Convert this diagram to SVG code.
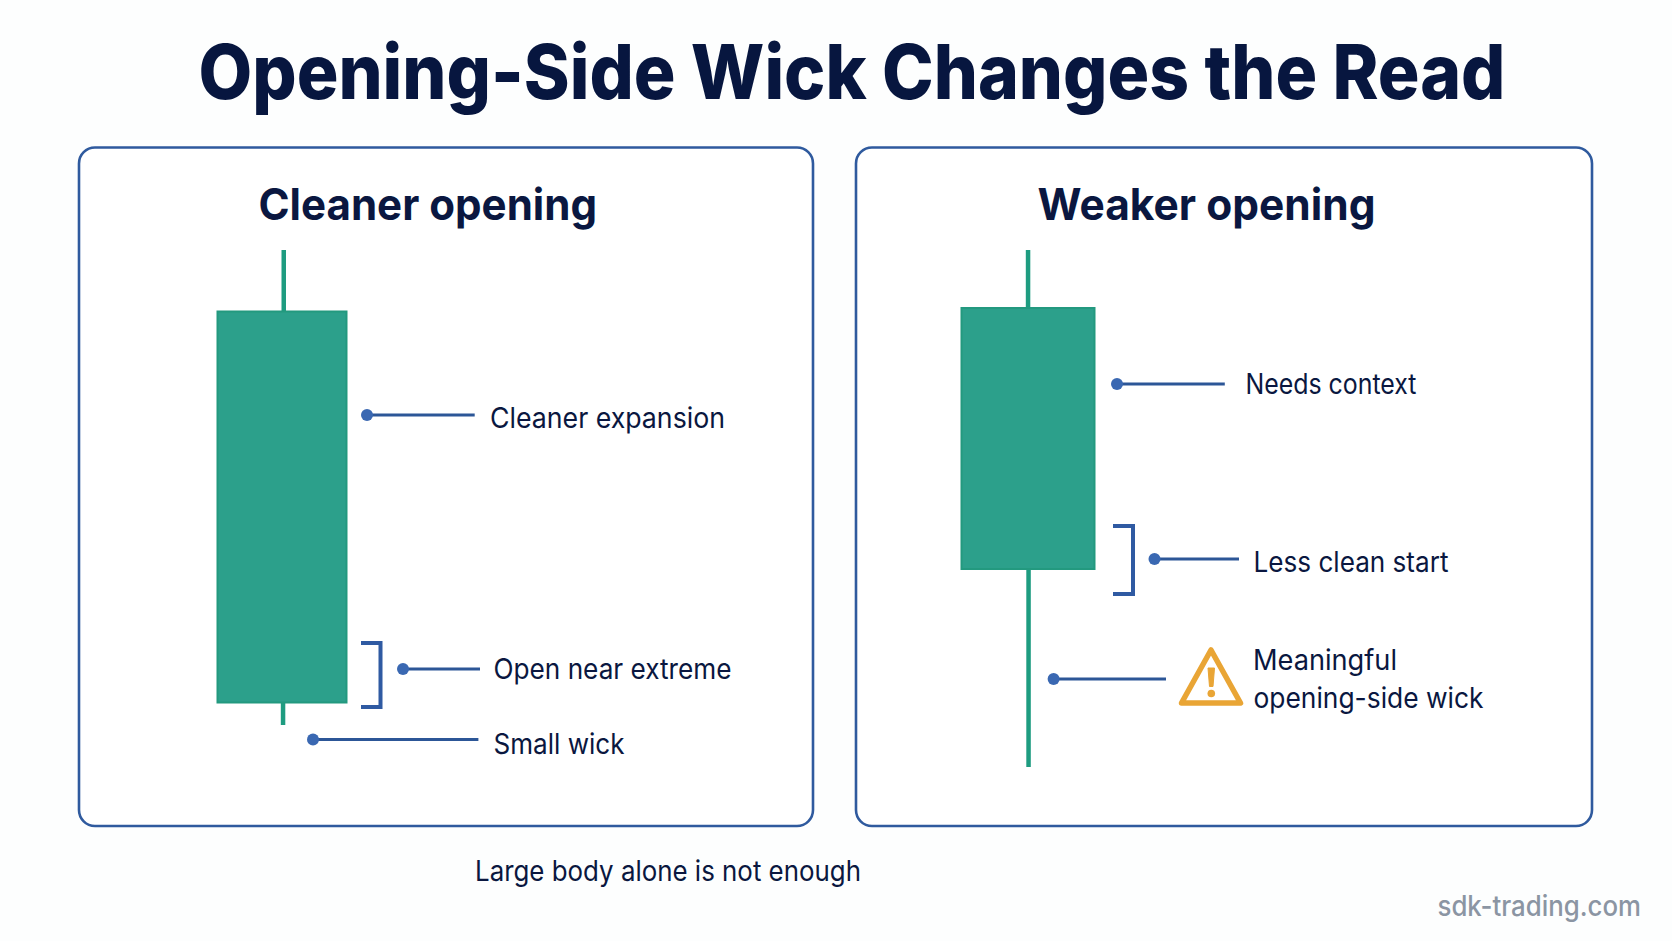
<svg xmlns="http://www.w3.org/2000/svg" width="1672" height="941" viewBox="0 0 1672 941">
<style>
text{font-family:"Inter","Liberation Sans",sans-serif;fill:#0a1740}
.title{font-size:76px;font-weight:800;fill:#07163f}
.sub{font-size:44px;font-weight:700}
.lab{font-size:28px;font-weight:400}
.wm{font-size:28px;font-weight:500;fill:#8b95a3}
.panel{fill:#fff;stroke:#2f5a9e;stroke-width:2.6}
.body{fill:#2ca08b;stroke:#23997f;stroke-width:2}
.wick{fill:#1e9c80}
.ln{stroke:#2c5697;stroke-width:3;fill:none}
.br{stroke:#2f5aa2;stroke-width:4;fill:none}
.dot{fill:#3a68b2}
</style>
<rect width="1672" height="941" fill="#fdfefe"/>
<text id="title" class="title" x="198.5" y="99" textLength="1307" lengthAdjust="spacingAndGlyphs">Opening-Side Wick Changes the Read</text>
<g id="panel-left"><rect class="panel" x="79" y="147.5" width="734" height="678.5" rx="16"/><text class="sub" x="258.5" y="220" textLength="338.5" lengthAdjust="spacingAndGlyphs">Cleaner opening</text></g>
<g id="panel-right"><rect class="panel" x="856" y="147.5" width="736" height="678.5" rx="16"/><text class="sub" x="1037.5" y="220" textLength="338" lengthAdjust="spacingAndGlyphs">Weaker opening</text></g>
<g id="candle-left"><rect class="wick" x="281.5" y="250" width="4.5" height="62"/><rect class="wick" x="280.8" y="702" width="4.5" height="23"/><rect class="body" x="217.5" y="311.5" width="129" height="391"/></g>
<g id="candle-right"><rect class="wick" x="1025.8" y="250" width="4.5" height="59"/><rect class="wick" x="1026.3" y="569" width="4.5" height="198"/><rect class="body" x="961.5" y="308" width="133" height="261"/></g>
<g id="connectors">
<path class="ln" d="M367 415H474.7"/><circle class="dot" cx="367" cy="415" r="6"/>
<path class="br" d="M361 643H380.5V707H361"/>
<path class="ln" d="M403 669H480"/><circle class="dot" cx="403" cy="669" r="6"/>
<path class="ln" d="M313 739.5H478.4"/><circle class="dot" cx="313" cy="739.5" r="6"/>
<path class="ln" d="M1117 384H1224.8"/><circle class="dot" cx="1117" cy="384" r="6"/>
<path class="br" d="M1113 526H1133V594H1113"/>
<path class="ln" d="M1154.5 559H1239"/><circle class="dot" cx="1154.5" cy="559" r="6"/>
<path class="ln" d="M1053.6 679H1166"/><circle class="dot" cx="1053.6" cy="679" r="6"/>
</g>
<g id="label-expansion"><text class="lab" x="490" y="428" textLength="235" lengthAdjust="spacingAndGlyphs">Cleaner expansion</text></g>
<g id="label-open"><text class="lab" x="493.5" y="679" textLength="238" lengthAdjust="spacingAndGlyphs">Open near extreme</text></g>
<g id="label-small"><text class="lab" x="493.5" y="754" textLength="131" lengthAdjust="spacingAndGlyphs">Small wick</text></g>
<g id="label-context"><text class="lab" x="1245.5" y="394" textLength="171" lengthAdjust="spacingAndGlyphs">Needs context</text></g>
<g id="label-start"><text class="lab" x="1253.5" y="572" textLength="195" lengthAdjust="spacingAndGlyphs">Less clean start</text></g>
<g id="label-meaningful"><text class="lab" x="1253" y="670" textLength="144" lengthAdjust="spacingAndGlyphs">Meaningful</text><text class="lab" x="1253.5" y="708" textLength="230" lengthAdjust="spacingAndGlyphs">opening-side wick</text></g>
<g id="warning">
<path d="M1211 650L1240.5 703H1181.5Z" fill="#fff" stroke="#e9a535" stroke-width="5.5" stroke-linejoin="round"/>
<path d="M1208 668H1214.5L1213 686.5H1209.5Z" fill="#e9a535" stroke="#e9a535" stroke-linejoin="round"/>
<circle cx="1211.3" cy="693.5" r="3.8" fill="#e9a535"/>
</g>
<g id="footer"><text class="lab" x="475" y="881" textLength="386" lengthAdjust="spacingAndGlyphs">Large body alone is not enough</text></g>
<g id="watermark"><text class="wm" x="1437.5" y="916" textLength="203.5" lengthAdjust="spacingAndGlyphs">sdk-trading.com</text></g>
</svg>
